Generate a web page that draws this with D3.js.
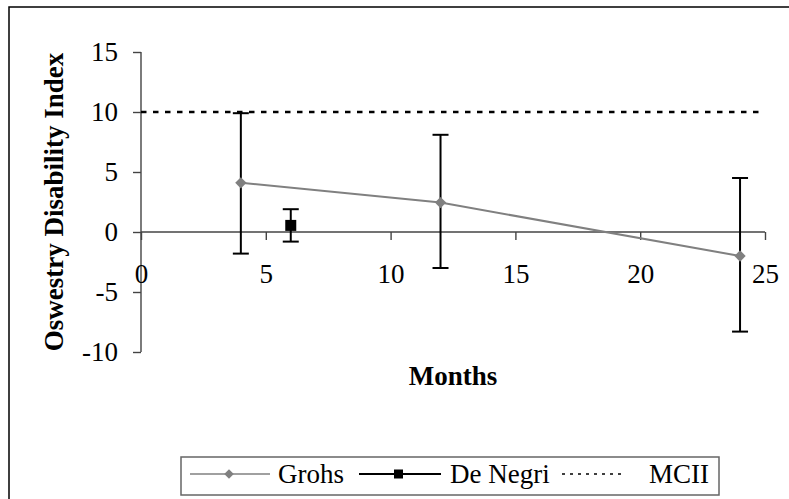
<!DOCTYPE html>
<html><head><meta charset="utf-8">
<script src="https://cdn.jsdelivr.net/npm/d3@7"></script>
<style>body{margin:0;background:#fff}svg{display:block}text{font-family:"Liberation Serif","Times New Roman",serif;fill:#000}</style>
</head><body><svg id="c" width="789" height="499"></svg>
<script>
const xTicks = [0, 5, 10, 15, 20, 25];
const yTicks = [-10, -5, 0, 5, 10, 15];
const grohsMonths = [4, 12, 24];
const grohsValues = [4.1, 2.45, -2.0];
const grohsUpper = [9.9, 8.1, 4.5];
const grohsLower = [-1.8, -3.0, -8.3];
const deNegriMonths = [6];
const deNegriValues = [0.55];
const deNegriUpper = [1.9];
const deNegriLower = [-0.8];
const mcii = 10;
const legendLabels = ["Grohs", "De Negri", "MCII"];

const svg = d3.select("#c");
const x = d3.scaleLinear().domain([0, 25]).range([141, 765]);
const y = d3.scaleLinear().domain([-10, 15]).range([352, 52]);
const fmt = d => String(d);

// outer border
svg.append("rect").attr("x", 9).attr("y", 7).attr("width", 800).attr("height", 520)
  .attr("fill", "none").attr("stroke", "#000").attr("stroke-width", 1.5);

// axes
const yAx = svg.append("g").attr("transform", `translate(${x(0)},0)`)
  .call(d3.axisLeft(y).tickValues(yTicks).tickSize(8).tickPadding(15).tickFormat(fmt));
const xAx = svg.append("g").attr("transform", `translate(0,${y(0)})`)
  .call(d3.axisBottom(x).tickValues(xTicks).tickSize(8).tickPadding(24).tickFormat(fmt));
[yAx, xAx].forEach(g => {
  g.attr("font-family", null);
  g.selectAll("path").attr("stroke", "#444").attr("stroke-width", 1.4);
  g.selectAll("line").attr("stroke", "#444").attr("stroke-width", 1.4);
  g.selectAll("text").style("font-size", "27px").attr("fill", "#000");
});
yAx.select(".domain").attr("d", `M0,${y(15)}V${y(-10)}`);
xAx.select(".domain").attr("d", `M${x(0)},0H${x(25)}`);

// MCII line
svg.append("line").attr("x1", x(0)).attr("x2", x(25)).attr("y1", y(mcii)).attr("y2", y(mcii))
  .attr("stroke", "#000").attr("stroke-width", 2.5).attr("stroke-dasharray", "5.5,6.5");

// error bars
function errBars(months, up, lo) {
  const g = svg.append("g").attr("stroke", "#000").attr("stroke-width", 2);
  months.forEach((m, i) => {
    g.append("line").attr("x1", x(m)).attr("x2", x(m)).attr("y1", y(up[i])).attr("y2", y(lo[i]));
    g.append("line").attr("x1", x(m) - 8).attr("x2", x(m) + 8).attr("y1", y(up[i])).attr("y2", y(up[i]));
    g.append("line").attr("x1", x(m) - 8).attr("x2", x(m) + 8).attr("y1", y(lo[i])).attr("y2", y(lo[i]));
  });
}
errBars(grohsMonths, grohsUpper, grohsLower);
errBars(deNegriMonths, deNegriUpper, deNegriLower);

// Grohs line
const line = d3.line().x(d => x(d[0])).y(d => y(d[1]));
svg.append("path").datum(grohsMonths.map((m, i) => [m, grohsValues[i]]))
  .attr("d", line).attr("fill", "none").attr("stroke", "#808080").attr("stroke-width", 2);
const diamond = d3.symbol().type(d3.symbolSquare).size(64);
svg.selectAll(".gm").data(grohsMonths).enter().append("path")
  .attr("d", diamond).attr("fill", "#808080")
  .attr("transform", (m, i) => `translate(${x(m)},${y(grohsValues[i])}) rotate(45)`);
svg.selectAll(".dm").data(deNegriMonths).enter().append("rect")
  .attr("x", (m) => x(m) - 5.5).attr("y", (m, i) => y(deNegriValues[i]) - 5.5)
  .attr("width", 11).attr("height", 11).attr("fill", "#000");

// titles
svg.append("text").attr("x", (x(0) + x(25)) / 2).attr("y", 385).attr("text-anchor", "middle")
  .style("font-size", "27px").style("font-weight", "bold").text("Months");
svg.append("text").attr("transform", `translate(63,${(y(15) + y(-10)) / 2}) rotate(-90)`)
  .attr("text-anchor", "middle").style("font-size", "27px").style("font-weight", "bold")
  .text("Oswestry Disability Index");

// legend
const lg = svg.append("g");
lg.append("rect").attr("x", 181).attr("y", 457).attr("width", 538).attr("height", 38)
  .attr("fill", "#fff").attr("stroke", "#666").attr("stroke-width", 1.5);
const ly = 474;
lg.append("line").attr("x1", 190).attr("x2", 270).attr("y1", ly).attr("y2", ly).attr("stroke", "#808080").attr("stroke-width", 1.5);
lg.append("path").attr("d", d3.symbol().type(d3.symbolSquare).size(45)).attr("fill", "#808080")
  .attr("transform", `translate(229,${ly}) rotate(45)`);
lg.append("text").attr("x", 278).attr("y", ly + 9).style("font-size", "27px").text(legendLabels[0]);
lg.append("line").attr("x1", 359).attr("x2", 441).attr("y1", ly).attr("y2", ly).attr("stroke", "#000").attr("stroke-width", 2);
lg.append("rect").attr("x", 394).attr("y", ly - 4.5).attr("width", 9).attr("height", 9).attr("fill", "#000");
lg.append("text").attr("x", 450).attr("y", ly + 9).style("font-size", "27px").text(legendLabels[1]);
lg.append("line").attr("x1", 562).attr("x2", 626).attr("y1", ly).attr("y2", ly).attr("stroke", "#000").attr("stroke-width", 1.5).attr("stroke-dasharray", "3,5");
lg.append("text").attr("x", 649).attr("y", ly + 9).style("font-size", "27px").text(legendLabels[2]);
</script></body></html>
